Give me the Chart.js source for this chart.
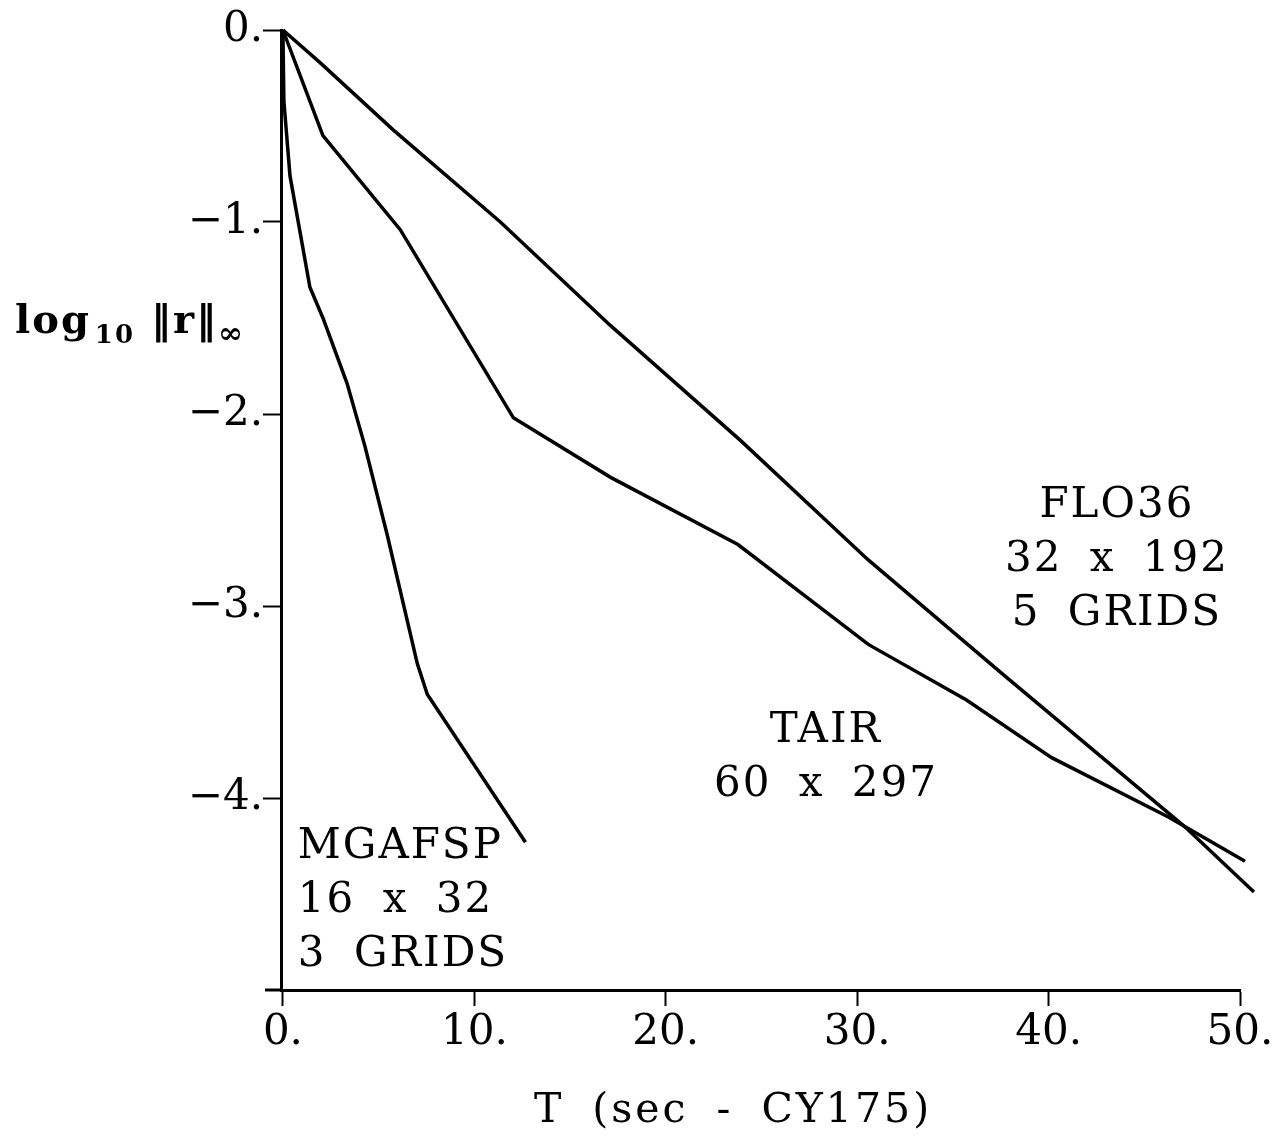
<!DOCTYPE html>
<html>
<head>
<meta charset="utf-8">
<script src="https://cdn.jsdelivr.net/npm/chart.js@4.4.1/dist/chart.umd.min.js"></script>
<style>
  html, body { margin: 0; padding: 0; background: #fff; }
  canvas { display: block; }
</style>
</head>
<body>
<canvas id="chart" width="1288" height="1148"></canvas>
<script>
// tick values
const xTicks = [0, 10, 20, 30, 40, 50];
const yTicks = [0, -1, -2, -3, -4];

// FLO36  32 x 192, 5 grids
const flo36T = [0, 1.94, 5.76, 11.36, 17.12, 23.93, 30.58, 37.54, 47.12, 50.73];
const flo36R = [0, -0.17, -0.52, -1.0, -1.54, -2.14, -2.76, -3.35, -4.15, -4.49];

// TAIR  60 x 297
const tairT = [0, 2.09, 6.13, 12.04, 17.12, 23.77, 30.58, 35.71, 40.16, 46.28, 50.26];
const tairR = [0, -0.55, -1.04, -2.02, -2.33, -2.68, -3.20, -3.49, -3.79, -4.10, -4.33];

// MGAFSP  16 x 32, 3 grids
const mgafspT = [0, 0.05, 0.37, 1.41, 2.09, 3.35, 4.29, 5.45, 7.02, 7.54, 12.67];
const mgafspR = [0, -0.37, -0.76, -1.34, -1.50, -1.84, -2.17, -2.63, -3.30, -3.46, -4.23];

const FONT = '"DejaVu Serif", "Liberation Serif", serif';

function pts(xs, ys) {
  return xs.map((v, i) => ({ x: v, y: ys[i] }));
}

function line(label, xs, ys) {
  return {
    label: label,
    data: pts(xs, ys),
    borderColor: '#000',
    borderWidth: 3.5,
    pointRadius: 0,
    tension: 0,
    clip: false
  };
}

// text labels next to the curves, anchored in data units
const notes = [
  { x: 43.57, y: -2.536, align: 'center', lines: ['FLO36', '32 x 192', '5 GRIDS'] },
  { x: 28.37, y: -3.71, align: 'center', lines: ['TAIR', '60 x 297'] },
  { x: 0.78, y: -4.31, align: 'left', lines: ['MGAFSP', '16 x 32', '3 GRIDS'] }
];

const textPlugin = {
  id: 'textPlugin',
  afterDraw(chart) {
    const ctx = chart.ctx;
    const xs = chart.scales.x, ys = chart.scales.y;
    const area = chart.chartArea;
    ctx.save();

    // x axis runs a little past the y axis
    ctx.strokeStyle = '#000';
    ctx.lineWidth = 3;
    ctx.beginPath();
    ctx.moveTo(area.left - 16, area.bottom);
    ctx.lineTo(area.left, area.bottom);
    ctx.stroke();

    ctx.fillStyle = '#000';
    ctx.textBaseline = 'alphabetic';
    ctx.font = '42px ' + FONT;
    ctx.wordSpacing = '12px';
    ctx.letterSpacing = '2px';
    notes.forEach(n => {
      const px = xs.getPixelForValue(n.x);
      const py = ys.getPixelForValue(n.y);
      ctx.textAlign = n.align;
      n.lines.forEach((t, i) => ctx.fillText(t, px, py + i * 54));
    });

    // x axis title
    ctx.textAlign = 'center';
    ctx.font = '41px ' + FONT;
    ctx.letterSpacing = '3px';
    ctx.wordSpacing = '12px';
    ctx.fillText('T (sec - CY175)', 733, 1122);

    // y axis title: log10 ||r||inf
    ctx.letterSpacing = '2px';
    ctx.wordSpacing = '0px';
    ctx.textAlign = 'left';
    let cx = 15;
    const base = 333;
    ctx.font = 'bold 40px ' + FONT;
    ctx.fillText('log', cx, base);
    cx += ctx.measureText('log').width + 4;
    ctx.font = 'bold 26px ' + FONT;
    ctx.fillText('10', cx, base + 10);
    cx += ctx.measureText('10').width + 16;
    ctx.font = 'bold 40px ' + FONT;
    ctx.fillText('\u2016r\u2016', cx, base);
    cx += ctx.measureText('\u2016r\u2016').width;
    ctx.font = 'bold 30px ' + FONT;
    ctx.fillText('\u221e', cx, base + 10);
    ctx.restore();
  }
};

const ctx = document.getElementById('chart').getContext('2d');
const myChart = new Chart(ctx, {
  type: 'line',
  data: {
    datasets: [
      line('FLO36', flo36T, flo36R),
      line('TAIR', tairT, tairR),
      line('MGAFSP', mgafspT, mgafspR)
    ]
  },
  options: {
    responsive: false,
    animation: false,
    layout: { padding: { left: 0, right: 48, top: 30, bottom: 0 } },
    plugins: {
      legend: { display: false },
      tooltip: { enabled: false }
    },
    scales: {
      x: {
        type: 'linear',
        min: -0.1,
        max: 50,
        afterBuildTicks: s => { s.ticks = xTicks.map(v => ({ value: v })); },
        afterFit: s => { s.height = 158; },
        border: { display: true, color: '#000', width: 3 },
        grid: { drawOnChartArea: false, drawTicks: true, tickLength: 16, tickWidth: 2, tickColor: '#000' },
        ticks: {
          color: '#000',
          padding: 2,
          font: { family: FONT, size: 42 },
          callback: v => v + '.'
        }
      },
      y: {
        type: 'linear',
        min: -5,
        max: 0,
        afterBuildTicks: s => { s.ticks = yTicks.map(v => ({ value: v })); },
        afterFit: s => { s.width = 281; },
        border: { display: true, color: '#000', width: 3 },
        grid: { drawOnChartArea: false, drawTicks: true, tickLength: 18, tickWidth: 2, tickColor: '#000' },
        ticks: {
          color: '#000',
          padding: 0,
          font: { family: FONT, size: 42 },
          callback: v => (v === 0 ? '0.' : '\u2212' + Math.abs(v) + '.')
        }
      }
    }
  },
  plugins: [textPlugin]
});
</script>
</body>
</html>
